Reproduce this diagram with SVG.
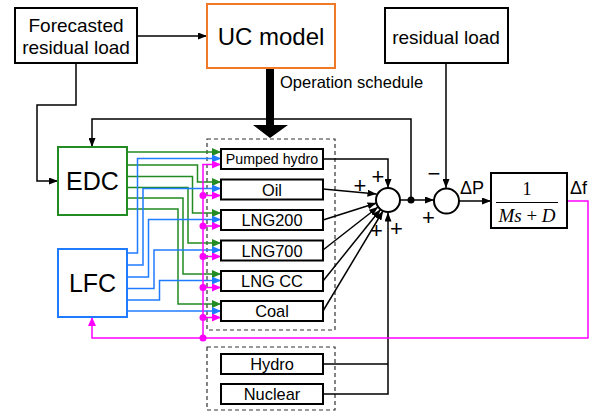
<svg xmlns="http://www.w3.org/2000/svg" width="596" height="414" viewBox="0 0 596 414">
<defs>
<style>
.t{font-family:"Liberation Sans",Arial,sans-serif;fill:#000}
.box{fill:#fff;stroke:#000;stroke-width:2}
.gen{fill:#fff;stroke:#000;stroke-width:2}
.dash{fill:none;stroke:#333;stroke-width:1.2;stroke-dasharray:4 3}
.k{fill:none;stroke:#000;stroke-width:1.5}
.g{fill:none;stroke:#228B22;stroke-width:1.5}
.b{fill:none;stroke:#1F7BFF;stroke-width:1.5}
.m{fill:none;stroke:#FF00FF;stroke-width:1.5}
.ak{marker-end:url(#ak)}
.ag{marker-end:url(#ag)}
.ab{marker-end:url(#ab)}
.am{marker-end:url(#am)}
.sign{font-family:"Liberation Sans",Arial,sans-serif;font-size:22px;fill:#000}
</style>
<marker id="ak" markerUnits="userSpaceOnUse" markerWidth="9" markerHeight="7" refX="9" refY="3.5" orient="auto"><path d="M0,0 L9,3.5 L0,7 z" fill="#000"/></marker>
<marker id="ag" markerUnits="userSpaceOnUse" markerWidth="9" markerHeight="8" refX="9" refY="4" orient="auto"><path d="M0,0 L9,4 L0,8 z" fill="#228B22"/></marker>
<marker id="ab" markerUnits="userSpaceOnUse" markerWidth="9" markerHeight="8" refX="9" refY="4" orient="auto"><path d="M0,0 L9,4 L0,8 z" fill="#1F7BFF"/></marker>
<marker id="am" markerUnits="userSpaceOnUse" markerWidth="9" markerHeight="8" refX="9" refY="4" orient="auto"><path d="M0,0 L9,4 L0,8 z" fill="#FF00FF"/></marker>
</defs>
<rect width="596" height="414" fill="#fff"/>

<!-- dashed groups -->
<rect class="dash" x="207" y="139" width="128" height="191"/>
<rect class="dash" x="207" y="347" width="128" height="63"/>

<g id="connectors">
  <!-- black -->
  <path class="k ak" d="M137,36 H207"/>
  <path class="k ak" d="M76,63 V105 H37 V181 H58"/>
  <path class="k ak" d="M411,200 V119 H92 V147"/>
  <path class="k ak" d="M446,63 V188"/>
  <path class="k ak" d="M400,200 H434"/>
  <path class="k ak" d="M459,201 H491"/>
  <path d="M266,68 H274 V125 H288 L270,138 L253,125 H266 Z" fill="#000"/>
  <path class="k ak" d="M323,159 H388 V188"/>
  <path class="k ak" d="M323,189 L376.5,194"/>
  <path class="k ak" d="M323,220 L376.5,203"/>
  <path class="k ak" d="M323,250 L378,207"/>
  <path class="k ak" d="M323,281 L380.5,209.5"/>
  <path class="k ak" d="M323,311 L383,211"/>
  <path class="k" d="M323,364 H388"/>
  <path class="k ak" d="M323,394 H388 V212.5"/>
  <circle cx="411" cy="200" r="3.5" fill="#000"/>

  <!-- green from EDC -->
  <path class="g ag" d="M127,152 H221"/>
  <path class="g ag" d="M127,165 H197.5 V182 H221"/>
  <path class="g ag" d="M127,176.5 H192.5 V213 H221"/>
  <path class="g ag" d="M127,187.5 H188 V243 H221"/>
  <path class="g ag" d="M127,198 H183 V274 H221"/>
  <path class="g ag" d="M127,209 H178 V304 H221"/>

  <!-- blue from LFC -->
  <path class="b ab" d="M127,253 H137.5 V158.5 H221"/>
  <path class="b ab" d="M127,265 H143 V188.5 H221"/>
  <path class="b ab" d="M127,277 H148.5 V219.5 H221"/>
  <path class="b ab" d="M127,288.5 H154 V250 H221"/>
  <path class="b ab" d="M127,300 H159.5 V280.5 H221"/>
  <path class="b ab" d="M127,311 H221"/>

  <!-- magenta -->
  <path class="m am" d="M567,201 H588 V338 H92 V317"/>
  <path class="m" d="M203,338 V164.5"/>
  <path class="m am" d="M202.3,164.5 H221"/>
  <path class="m am" d="M203,195.5 H221"/>
  <path class="m am" d="M203,226 H221"/>
  <path class="m am" d="M203,256.5 H221"/>
  <path class="m am" d="M203,287.5 H221"/>
  <path class="m am" d="M203,317.5 H221"/>
  <g fill="#FF00FF">
    <circle cx="203" cy="195.5" r="3.5"/>
    <circle cx="203" cy="226" r="3.5"/>
    <circle cx="203" cy="256.5" r="3.5"/>
    <circle cx="203" cy="287.5" r="3.5"/>
    <circle cx="203" cy="317.5" r="3.5"/>
    <circle cx="203" cy="338" r="3.5"/>
  </g>
</g>

<g id="forecast">
  <rect class="box" x="15" y="8" width="122" height="55"/>
  <text class="t" x="76" y="31.5" font-size="19" text-anchor="middle">Forecasted</text>
  <text class="t" x="76" y="54" font-size="19" text-anchor="middle">residual load</text>
</g>
<g id="uc">
  <rect x="207" y="4" width="128" height="64" fill="#fff" stroke="#F07A28" stroke-width="2"/>
  <text class="t" x="271" y="45" font-size="24" text-anchor="middle">UC model</text>
</g>
<text class="t" x="280" y="88" font-size="16.5">Operation schedule</text>
<g id="residual">
  <rect class="box" x="385" y="8" width="123" height="55"/>
  <text class="t" x="446" y="43.5" font-size="19" text-anchor="middle">residual load</text>
</g>
<g id="edc">
  <rect x="58" y="147" width="69" height="68" fill="#fff" stroke="#228B22" stroke-width="2"/>
  <text class="t" x="92.5" y="190" font-size="25" text-anchor="middle">EDC</text>
</g>
<g id="lfc">
  <rect x="58" y="249" width="69" height="68" fill="#fff" stroke="#1F7BFF" stroke-width="2"/>
  <text class="t" x="92.5" y="292" font-size="25" text-anchor="middle">LFC</text>
</g>

<g id="pumped"><rect class="gen" x="221" y="149" width="102" height="20"/><text class="t" x="272" y="164" font-size="14.2" text-anchor="middle">Pumped hydro</text></g>
<g id="oil"><rect class="gen" x="221" y="179.5" width="102" height="20"/><text class="t" x="272" y="195.5" font-size="16.4" text-anchor="middle">Oil</text></g>
<g id="lng200"><rect class="gen" x="221" y="210" width="102" height="20"/><text class="t" x="272" y="226" font-size="16.4" text-anchor="middle">LNG200</text></g>
<g id="lng700"><rect class="gen" x="221" y="240.5" width="102" height="20"/><text class="t" x="272" y="256.5" font-size="16.4" text-anchor="middle">LNG700</text></g>
<g id="lngcc"><rect class="gen" x="221" y="271" width="102" height="20"/><text class="t" x="272" y="287" font-size="16.4" text-anchor="middle">LNG CC</text></g>
<g id="coal"><rect class="gen" x="221" y="301" width="102" height="20"/><text class="t" x="272" y="317" font-size="16.4" text-anchor="middle">Coal</text></g>
<g id="hydro"><rect class="gen" x="221" y="354" width="102" height="20"/><text class="t" x="272" y="370" font-size="16.4" text-anchor="middle">Hydro</text></g>
<g id="nuclear"><rect class="gen" x="221" y="384" width="102" height="20"/><text class="t" x="272" y="400" font-size="16.4" text-anchor="middle">Nuclear</text></g>

<g id="sum1">
  <circle cx="388" cy="200" r="12" fill="#fff" stroke="#000" stroke-width="2"/>
  <text class="sign" x="360" y="192.5" text-anchor="middle">+</text>
  <text class="sign" x="378" y="184" text-anchor="middle">+</text>
  <text class="sign" x="376.5" y="237.5" text-anchor="middle">+</text>
  <text class="sign" x="396.5" y="235.5" text-anchor="middle">+</text>
</g>
<g id="sum2">
  <circle cx="446.5" cy="201" r="12.5" fill="#fff" stroke="#000" stroke-width="2"/>
  <text class="sign" x="434" y="181" text-anchor="middle">−</text>
  <text class="sign" x="428.5" y="224.5" text-anchor="middle">+</text>
  <text class="t" x="460" y="194" font-size="18">ΔP</text>
</g>
<g id="plant">
  <rect class="box" x="491" y="173" width="76" height="55"/>
  <text x="527" y="195" font-family="'Liberation Serif','Times New Roman',serif" font-size="18" text-anchor="middle">1</text>
  <line x1="496" y1="202.5" x2="558" y2="202.5" stroke="#000" stroke-width="1.2"/>
  <text x="527" y="222" font-family="'Liberation Serif','Times New Roman',serif" font-size="19" text-anchor="middle"><tspan font-style="italic">Ms</tspan> + <tspan font-style="italic">D</tspan></text>
  <text class="t" x="570" y="194" font-size="18">Δf</text>
</g>
</svg>
